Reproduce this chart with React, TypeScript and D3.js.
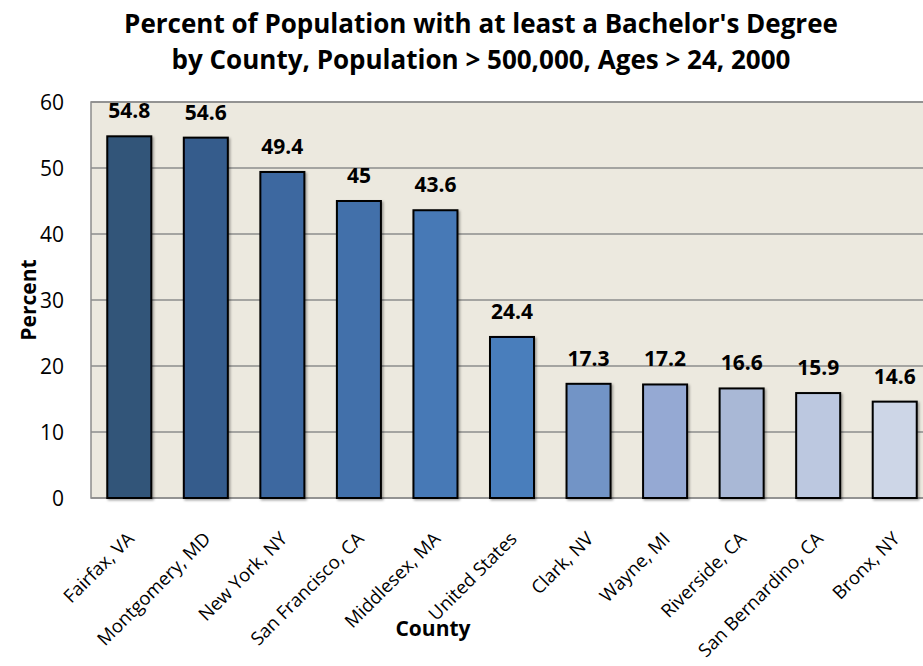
import { useRef, useEffect } from "react";
import * as d3 from "d3";

const counties = [
  "Fairfax, VA",
  "Montgomery, MD",
  "New York, NY",
  "San Francisco, CA",
  "Middlesex, MA",
  "United States",
  "Clark, NV",
  "Wayne, MI",
  "Riverside, CA",
  "San Bernardino, CA",
  "Bronx, NY",
];
const percents = [54.8, 54.6, 49.4, 45, 43.6, 24.4, 17.3, 17.2, 16.6, 15.9, 14.6];
const barColors = [
  "#325579", "#365c8c", "#3d67a0", "#4270aa", "#4779b6", "#4a7ebc",
  "#7294c6", "#95a9d3", "#a9b8d6", "#bcc8e0", "#cdd6e7",
];
const yTicks = [0, 10, 20, 30, 40, 50, 60];

const W = 923;
const H = 666;
const margin = { top: 102, left: 91, bottom: 168, right: -10 };
const font = "'Open Sans', sans-serif";

const App = () => {
  const ref = useRef<SVGSVGElement>(null);

  useEffect(() => {
    const svg = d3.select(ref.current);
    svg.selectAll("*").remove();

    const x = d3
      .scaleBand()
      .domain(counties)
      .range([margin.left, W - margin.right])
      .paddingInner(0.425)
      .paddingOuter(0.2125);
    const y = d3.scaleLinear().domain([0, 60]).range([H - margin.bottom, margin.top]);

    const defs = svg.append("defs");
    const f = defs.append("filter").attr("id", "shadow").attr("x", "-20%").attr("y", "-20%").attr("width", "140%").attr("height", "140%");
    f.append("feDropShadow").attr("dx", 1.5).attr("dy", 1.5).attr("stdDeviation", 1).attr("flood-color", "#000").attr("flood-opacity", 0.35);

    // plot background
    svg.append("rect")
      .attr("x", margin.left)
      .attr("y", margin.top)
      .attr("width", W - margin.right - margin.left)
      .attr("height", y(0) - margin.top)
      .attr("fill", "#ece9df")
      .attr("stroke", "#8c8c8c")
      .attr("stroke-width", 1.5);

    // gridlines
    svg.append("g")
      .selectAll("line")
      .data(yTicks)
      .join("line")
      .attr("x1", margin.left)
      .attr("x2", W - margin.right)
      .attr("y1", (d) => y(d))
      .attr("y2", (d) => y(d))
      .attr("stroke", "#8c8c8c")
      .attr("stroke-width", 1.5);

    // y tick labels
    svg.append("g")
      .selectAll("text")
      .data(yTicks)
      .join("text")
      .attr("x", 64)
      .attr("y", (d) => y(d))
      .attr("dy", "0.36em")
      .attr("text-anchor", "end")
      .style("font-family", font)
      .style("font-size", "21px")
      .style("fill", "#000")
      .text((d) => d);

    // bars
    svg.append("g")
      .selectAll("rect")
      .data(percents)
      .join("rect")
      .attr("x", (_, i) => x(counties[i])!)
      .attr("y", (d) => y(d))
      .attr("width", x.bandwidth())
      .attr("height", (d) => y(0) - y(d))
      .attr("fill", (_, i) => barColors[i])
      .attr("stroke", "#000")
      .attr("stroke-width", 2)
      .attr("filter", "url(#shadow)");

    // value labels
    svg.append("g")
      .selectAll("text")
      .data(percents)
      .join("text")
      .attr("x", (_, i) => x(counties[i])! + x.bandwidth() / 2)
      .attr("y", (d) => y(d) - 18)
      .attr("text-anchor", "middle")
      .style("font-family", font)
      .style("font-size", "21px")
      .style("font-weight", 700)
      .text((d) => d);

    // x labels
    svg.append("g")
      .selectAll("text")
      .data(counties)
      .join("text")
      .attr("text-anchor", "end")
      .attr("transform", (d) => `translate(${x(d)! + x.bandwidth() / 2 + 6},540) rotate(-45)`)
      .style("font-family", font)
      .style("font-size", "18.5px")
      .text((d) => d);

    // axis titles
    svg.append("text")
      .attr("x", 433)
      .attr("y", 636)
      .attr("text-anchor", "middle")
      .style("font-family", font)
      .style("font-size", "21px")
      .style("font-weight", 700)
      .text("County");

    svg.append("text")
      .attr("transform", "translate(36,300) rotate(-90)")
      .attr("text-anchor", "middle")
      .style("font-family", font)
      .style("font-size", "21px")
      .style("font-weight", 700)
      .text("Percent");

    // title
    const title = svg.append("text")
      .attr("text-anchor", "middle")
      .style("font-family", font)
      .style("font-size", "26px")
      .style("font-weight", 700);
    title.append("tspan").attr("x", 481).attr("y", 33).text("Percent of Population with at least a Bachelor's Degree");
    title.append("tspan").attr("x", 481).attr("y", 69).text("by County, Population > 500,000, Ages > 24, 2000");
  }, []);

  return (
    <div style={{ position: "absolute", left: 0, top: 0 }}>
      <svg ref={ref} width={W} height={H} style={{ display: "block", background: "#fff" }} />
    </div>
  );
};

export default App;
